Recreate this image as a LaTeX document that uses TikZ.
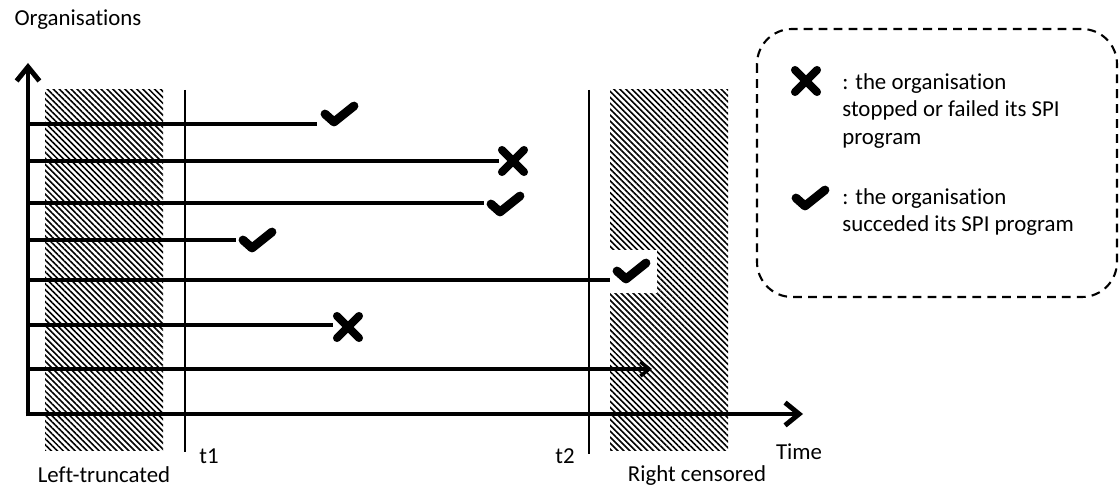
\documentclass[tikz,border=0pt]{standalone}
\usepackage{fontspec}
\setmainfont{Carlito}[Ligatures=NoCommon]
\usepackage{tikz}
\usetikzlibrary{arrows.meta, patterns.meta}

\tikzset{
  axis/.style={line width=2.8pt, -{Straight Barb[length=8pt,width=13pt]}},
  lifeline/.style={line width=2pt},
  cutline/.style={line width=0.9pt},
  hatchbox/.style={pattern={Lines[angle=-45,distance=2.4pt,line width=0.9pt]}},
  lbl/.style={font=\fontsize{13}{15.5}\selectfont, inner sep=0pt},
  tickmark/.pic={\draw[line width=5pt, line cap=round, line join=round] (-14,-1) -- (-5,7) -- (15,-9);},
  crossmark/.pic={\draw[line width=4.6pt, line cap=round] (-11,-11) -- (11,11) (-11,11) -- (11,-11);},
}

\begin{document}
\begin{tikzpicture}[x=0.02cm, y=-0.02cm]
  \useasboundingbox (0,0) rectangle (1119,489);

  % Truncated and censored zones
  \fill[hatchbox] (45,90) rectangle (163,450);
  \fill[hatchbox] (610,90) rectangle (728,450);
  \coordinate (t1top) at (185,90);
  \coordinate (t1bot) at (185,452);
  \coordinate (t2top) at (589,90);
  \coordinate (t2bot) at (589,454);
  \draw[cutline] (t1top) -- (t1bot);
  \draw[cutline] (t2top) -- (t2bot);

  % Axes
  \coordinate (origin) at (28,414);
  \coordinate (ytop) at (28,63);
  \coordinate (xend) at (803,414);
  \draw[axis] ([yshift=-1.4pt]origin) -- (ytop);
  \draw[axis] ([xshift=-1.4pt]origin) -- (xend);

  % Organisations
  \coordinate (s1) at (28,124); \coordinate (e1) at (317,124);
  \coordinate (s2) at (28,161); \coordinate (e2) at (499,161);
  \coordinate (s3) at (28,203); \coordinate (e3) at (484,203);
  \coordinate (s4) at (28,240); \coordinate (e4) at (236,240);
  \coordinate (s5) at (28,280); \coordinate (e5) at (610,280);
  \coordinate (s6) at (28,325); \coordinate (e6) at (333,325);
  \coordinate (s7) at (28,369); \coordinate (e7) at (652,369);
  \draw[lifeline] (s1) -- (e1);
  \draw[lifeline] (s2) -- (e2);
  \draw[lifeline] (s3) -- (e3);
  \draw[lifeline] (s4) -- (e4);
  \draw[lifeline] (s5) -- (e5);
  \draw[lifeline] (s6) -- (e6);
  \draw[lifeline, -{Straight Barb[length=5pt,width=8pt]}] (s7) -- (e7);

  \pic at (339,115) {tickmark};
  \pic at (513,161) {crossmark};
  \pic at (505,205) {tickmark};
  \pic at (257,241) {tickmark};
  \fill[white] (610,250) rectangle (657,293);
  \pic at (631,272) {tickmark};
  \pic at (348,327) {crossmark};

  % Labels
  \node[lbl] (ylabel) at (78,20) {Organisations};
  \node[lbl] (xlabel) at (799,452) {Time};
  \node[lbl] (t1lbl) at (209,456) {t1};
  \node[lbl] (t2lbl) at (565,456) {t2};
  \node[lbl] (leftlbl) at (104,475) {Left-truncated};
  \node[lbl] (rightlbl) at (697,476) {Right censored};

  % Legend
  \draw[line width=1.2pt, dash pattern=on 5pt off 3.5pt, rounded corners=20pt] (757,29) rectangle (1117,297);
  \pic at (806,81) {crossmark};
  \node[lbl, anchor=west, align=left] (failtxt) at (842,111) {: the organisation\\stopped or failed its SPI\\program};
  \pic at (810,199) {tickmark};
  \node[lbl, anchor=west, align=left] (successtxt) at (842,212) {: the organisation\\succeded its SPI program};
\end{tikzpicture}
\end{document}
